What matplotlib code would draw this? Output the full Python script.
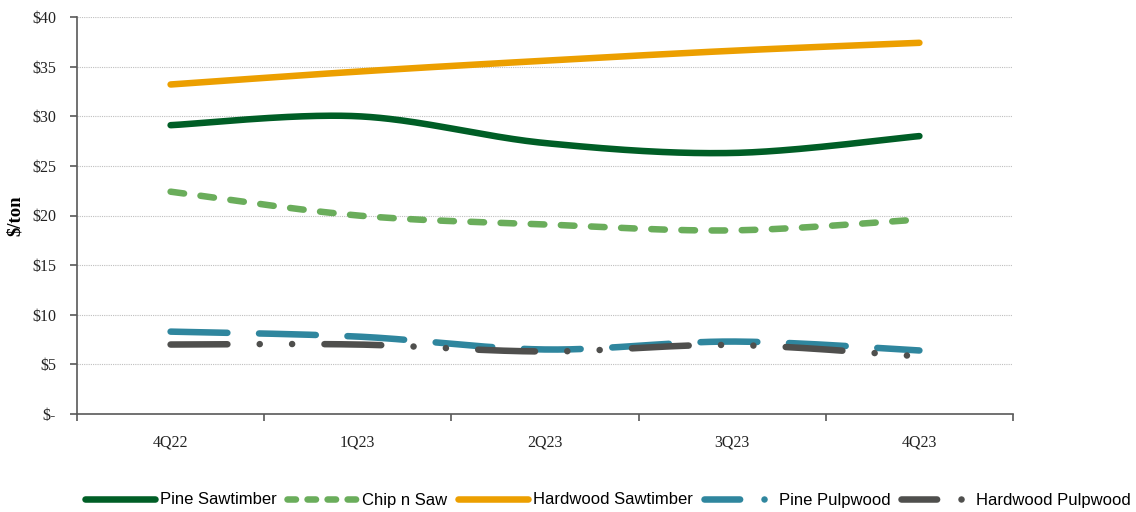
import numpy as np
import matplotlib
matplotlib.use("Agg")
import matplotlib.pyplot as plt
from matplotlib.ticker import FixedLocator
from matplotlib.lines import Line2D

categories = ["4Q22", "1Q23", "2Q23", "3Q23", "4Q23"]
pine_sawtimber = [29.1, 30.0, 27.3, 26.3, 28.0]
chip_n_saw = [22.4, 20.0, 19.1, 18.5, 19.6]
hardwood_sawtimber = [33.2, 34.5, 35.6, 36.6, 37.4]
pine_pulpwood = [8.3, 7.8, 6.5, 7.3, 6.4]
hardwood_pulpwood = [7.0, 7.0, 6.3, 6.95, 5.8]
y_ticks = [0, 5, 10, 15, 20, 25, 30, 35, 40]
y_tick_labels = ["$-", "$5", "$10", "$15", "$20", "$25", "$30", "$35", "$40"]

def smooth(xs, ys, n=60):
    xs = np.asarray(xs, float); ys = np.asarray(ys, float)
    P = np.column_stack([xs, ys])
    out = []
    for i in range(len(P) - 1):
        p0 = P[i - 1] if i > 0 else P[i]
        p1 = P[i]; p2 = P[i + 1]
        p3 = P[i + 2] if i + 2 < len(P) else P[i + 1]
        c1 = p1 + (p2 - p0) / 6.0
        c2 = p2 - (p3 - p1) / 6.0
        t = np.linspace(0, 1, n)[:, None]
        seg = ((1 - t) ** 3) * p1 + 3 * ((1 - t) ** 2) * t * c1 + 3 * (1 - t) * t ** 2 * c2 + t ** 3 * p2
        out.append(seg if i == 0 else seg[1:])
    arr = np.vstack(out)
    return arr[:, 0], arr[:, 1]

fig = plt.figure(figsize=(11.36, 5.12), dpi=100)
ax = fig.add_axes([77 / 1136, 1 - 414 / 512, (1013 - 77) / 1136, (414 - 17) / 512])

xpos = np.arange(len(categories)) + 0.5
lw = 4.7
series = [
    ("Pine Sawtimber", pine_sawtimber, "#005E26", "-", "-"),
    ("Chip n Saw", chip_n_saw, "#6AAD5B", (0, (2.08, 2.54)), (0, (1.3, 1.77))),
    ("Hardwood Sawtimber", hardwood_sawtimber, "#EC9F00", "-", "-"),
    ("Pine Pulpwood", pine_pulpwood, "#2F869E", (0, (8.7, 4.85)), (0, (5.46, 3.73, 0.01, 3.73))),
    ("Hardwood Pulpwood", hardwood_pulpwood, "#4F4F4D", (0, (8.7, 4.95, 0.01, 4.95, 0.01, 4.95)),
     (0, (5.46, 3.73, 0.01, 3.73))),
]
handles = []
for name, vals, col, ls, lls in series:
    sx, sy = smooth(xpos, vals)
    ax.plot(sx, sy, color=col, lw=lw, linestyle=ls, solid_capstyle="round", dash_capstyle="round")
    handles.append(Line2D([], [], color=col, lw=lw, linestyle=lls, solid_capstyle="round",
                          dash_capstyle="round", label=name))

ax.set_xlim(0, len(categories))
ax.set_ylim(0, 40)
ax.set_yticks(y_ticks)
ax.set_yticklabels(y_tick_labels)
ax.xaxis.set_major_locator(FixedLocator(np.arange(len(categories) + 1)))
ax.xaxis.set_minor_locator(FixedLocator(xpos))
ax.set_xticklabels([])
ax.set_xticklabels(categories, minor=True)
ax.tick_params(axis="x", which="minor", length=0, pad=15)
ax.tick_params(axis="x", which="major", length=5, color="#595959", width=1.2)
ax.tick_params(axis="y", length=5, color="#595959", width=1.2, pad=10)
for lab in ax.get_yticklabels() + ax.get_xticklabels(minor=True):
    lab.set_fontfamily("Liberation Serif")
    lab.set_fontsize(11.5)
    lab.set_color("#222222")

for y in y_ticks[1:]:
    ax.axhline(y, color="#BFBFBF", lw=0.8, ls=(0, (1, 1)), zorder=0)

for s in ["top", "right"]:
    ax.spines[s].set_visible(False)
for s in ["left", "bottom"]:
    ax.spines[s].set_color("#595959")
    ax.spines[s].set_linewidth(1.2)

ax.set_ylabel("$/ton", fontfamily="Liberation Serif", fontsize=13.5, fontweight="bold")
ax.yaxis.set_label_coords((24 - 77) / 936, 0.5)

leg = fig.legend(handles=handles, loc="center", bbox_to_anchor=(608 / 1136, 12 / 512), ncol=5,
                 frameon=False, prop={"family": "Liberation Sans", "size": 12}, handlelength=4.2,
                 handletextpad=0.3, columnspacing=0.65, borderpad=0, borderaxespad=0)
fig.savefig("out.png", dpi=100)
